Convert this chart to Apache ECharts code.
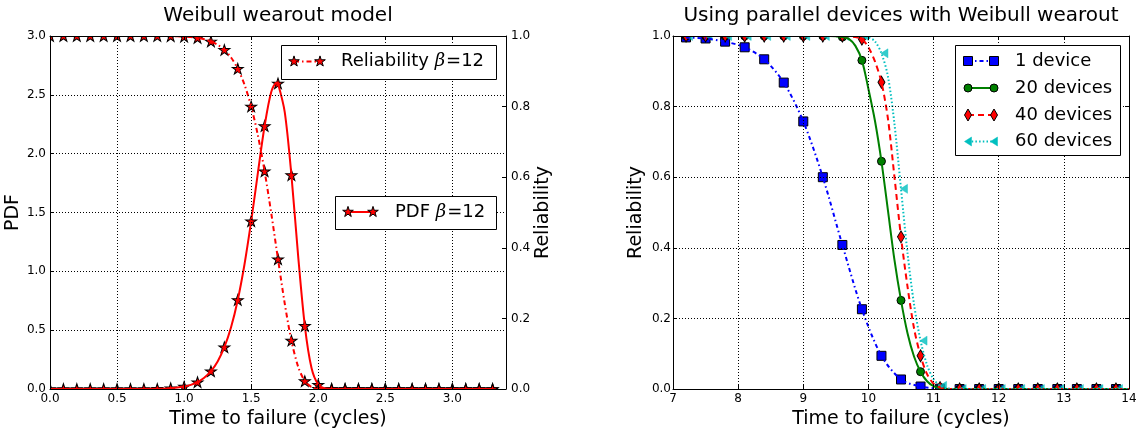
<!DOCTYPE html>
<html>
<head>
<meta charset="utf-8">
<script src="https://cdn.jsdelivr.net/npm/echarts@6/dist/echarts.min.js"></script>
<style>
  html, body { margin: 0; padding: 0; background: #fff; }
  #chart { width: 1140px; height: 429px; }
</style>
</head>
<body>
<div id="chart"></div>
<script>
// ---------- Left panel: Weibull wearout model, beta = 12 ----------
// marker positions (every 0.1 cycle)
const failTime = [0.0, 0.1, 0.2, 0.3, 0.4, 0.5, 0.6, 0.7, 0.8, 0.9, 1.0, 1.1, 1.2, 1.3, 1.4, 1.5, 1.6,
                  1.7, 1.8, 1.9, 2.0, 2.1, 2.2, 2.3, 2.4, 2.5, 2.6, 2.7, 2.8, 2.9, 3.0, 3.1, 3.2, 3.3];
const pdfMarkers = [0, 0, 0, 0, 0, 0, 0.0001, 0.0004, 0.0018, 0.0065, 0.0206, 0.0584, 0.151, 0.355, 0.757, 1.426, 2.235,
                    2.597, 1.818, 0.537, 0.037, 0.0002, 0, 0, 0, 0, 0, 0, 0, 0, 0, 0, 0, 0];
const relMarkers = [1, 1, 1, 1, 1, 1, 1, 1, 0.9999, 0.9995, 0.9983, 0.9946, 0.9848, 0.9608, 0.9073, 0.8004, 0.6169,
                    0.3679, 0.1373, 0.0224, 0.0009, 0, 0, 0, 0, 0, 0, 0, 0, 0, 0, 0, 0, 0];
// curve samples (finer around the wearout peak)
const curveTime = [0.0, 0.1, 0.2, 0.3, 0.4, 0.5, 0.6, 0.7, 0.8, 0.9, 1.0, 1.05, 1.1, 1.15, 1.2, 1.25, 1.3, 1.35,
                   1.4, 1.45, 1.5, 1.55, 1.6, 1.65, 1.69, 1.7, 1.75, 1.8, 1.85, 1.9, 1.95, 2.0, 2.05, 2.1, 2.2, 3.3];
const pdfCurve = [0, 0, 0, 0, 0, 0, 0.0001, 0.0004, 0.0018, 0.0065, 0.0206, 0.0351, 0.0584, 0.095, 0.151, 0.234,
                  0.355, 0.525, 0.757, 1.058, 1.426, 1.837, 2.235, 2.527, 2.603, 2.597, 2.356, 1.818, 1.134, 0.537,
                  0.178, 0.037, 0.004, 0.0002, 0, 0];
const relCurve = [1, 1, 1, 1, 1, 1, 1, 1, 0.9999, 0.9995, 0.9983, 0.9969, 0.9946, 0.9909, 0.9848, 0.9753, 0.9608,
                  0.939, 0.9073, 0.8622, 0.8004, 0.7189, 0.6169, 0.4971, 0.3939, 0.3679, 0.2427, 0.1373, 0.0634,
                  0.0224, 0.0056, 0.0009, 0.0001, 0, 0, 0];
const pdfTicks = [0, 0.5, 1.0, 1.5, 2.0, 2.5, 3.0];
const relTicks = [0, 0.2, 0.4, 0.6, 0.8, 1.0];

// ---------- Right panel: parallel devices ----------
const devTime = [7.2, 7.5, 7.8, 8.1, 8.4, 8.7, 9.0, 9.3, 9.6, 9.9, 10.2, 10.5, 10.8, 11.1, 11.4, 11.7,
                 12.0, 12.3, 12.6, 12.9, 13.2, 13.5, 13.8];
const dev1 = [0.996, 0.993, 0.984, 0.968, 0.934, 0.868, 0.758, 0.600, 0.408, 0.226, 0.094, 0.027, 0.007, 0.001,
              0, 0, 0, 0, 0, 0, 0, 0, 0];
const dev20 = [1, 1, 1, 1, 1, 1, 1, 1, 0.997, 0.931, 0.645, 0.251, 0.049, 0.002, 0, 0, 0, 0, 0, 0, 0, 0, 0];
const dev40 = [1, 1, 1, 1, 1, 1, 1, 1, 1, 0.991, 0.869, 0.431, 0.094, 0.004, 0, 0, 0, 0, 0, 0, 0, 0, 0];
const dev60 = [1, 1, 1, 1, 1, 1, 1, 1, 1, 1, 0.951, 0.567, 0.137, 0.009, 0, 0, 0, 0, 0, 0, 0, 0, 0];
const devCurveTime = [7.0, 9.0, 9.1, 9.2, 9.3, 9.4, 9.5, 9.6, 9.7, 9.8, 9.9, 10.0, 10.1, 10.2, 10.3, 10.4, 10.5,
                      10.6, 10.7, 10.8, 10.9, 11.0, 11.1, 11.2, 11.3, 11.4, 14.0];
const dev20Curve = [1, 1, 1, 1, 1, 1, 0.999, 0.997, 0.992, 0.972, 0.931, 0.85, 0.76, 0.645, 0.505, 0.365, 0.251,
                    0.158, 0.092, 0.049, 0.022, 0.008, 0.002, 0, 0, 0, 0];
const dev40Curve = [1, 1, 1, 1, 1, 1, 1, 1, 0.999, 0.997, 0.991, 0.968, 0.928, 0.869, 0.765, 0.6, 0.431,
                    0.29, 0.172, 0.094, 0.042, 0.015, 0.004, 0.001, 0, 0, 0];
const dev60Curve = [1, 1, 1, 1, 1, 1, 1, 1, 1, 1, 0.999, 0.996, 0.985, 0.951, 0.885, 0.75, 0.567,
                    0.385, 0.24, 0.137, 0.068, 0.028, 0.009, 0.002, 0, 0, 0];
const devTicksX = [7, 8, 9, 10, 11, 12, 13, 14];

// ---------- layout & styling ----------
const FONT = 'DejaVu Sans';
const G1 = { left: 50, top: 36, width: 456, height: 353 };
const G2 = { left: 673, top: 36, width: 456, height: 353 };
const RED = '#ff0000', BLUE = '#0000ff', GREEN = '#008000', CYAN = '#00bfbf';
const STAR = 'path://M0,-10L2.245,-3.09L9.511,-3.09L3.633,1.18L5.878,8.09L0,3.82L-5.878,8.09L-3.633,1.18L-9.511,-3.09L-2.245,-3.09Z';
const DASHDOT = [5, 3, 1.5, 3];
const DASHDOT_B = [4, 3, 1.5, 3];
const DASHED = [6, 4];
const DOTTED = [1.5, 2.2];

function zip(xs, ys) { return xs.map((x, i) => [x, ys[i]]); }

const tickText = { fontFamily: FONT, fontSize: 12, color: '#000' };
const nameText = { fontFamily: FONT, fontSize: 19, color: '#000' };
const frame = { show: true, onZero: false, lineStyle: { color: '#000', width: 1 } };
const ticksIn = { show: true, inside: true, length: 4, lineStyle: { color: '#000', width: 1 } };
const gridDots = { show: true, lineStyle: { color: '#000', width: 1, type: [1, 2] } };
const fmt1 = v => v.toFixed(1);

function axis(extra) {
  return Object.assign({
    type: 'value', z: 10, axisLine: frame, axisTick: ticksIn,
    splitLine: { show: false }, axisLabel: { show: false }
  }, extra);
}

const xAxis = [
  axis({ gridIndex: 0, position: 'bottom', min: 0, max: 3.4, interval: 0.5,
         axisLabel: Object.assign({ show: true, margin: 4, formatter: fmt1, showMaxLabel: false }, tickText),
         splitLine: gridDots, name: 'Time to failure (cycles)', nameLocation: 'middle', nameGap: 17,
         nameTextStyle: nameText }),
  axis({ gridIndex: 0, position: 'top', min: 0, max: 3.4, interval: 0.5 }),
  axis({ gridIndex: 1, position: 'bottom', min: devTicksX[0], max: devTicksX[devTicksX.length - 1], interval: 1,
         axisLabel: Object.assign({ show: true, margin: 4, formatter: v => String(v) }, tickText),
         splitLine: gridDots, name: 'Time to failure (cycles)', nameLocation: 'middle', nameGap: 17,
         nameTextStyle: nameText }),
  axis({ gridIndex: 1, position: 'top', min: devTicksX[0], max: devTicksX[devTicksX.length - 1], interval: 1 })
];

const yAxis = [
  axis({ gridIndex: 0, position: 'left', min: pdfTicks[0], max: pdfTicks[pdfTicks.length - 1], interval: 0.5,
         axisLabel: Object.assign({ show: true, margin: 4, formatter: fmt1 }, tickText),
         splitLine: gridDots, name: 'PDF', nameLocation: 'middle', nameGap: 24, nameTextStyle: nameText }),
  axis({ gridIndex: 0, position: 'right', min: relTicks[0], max: relTicks[relTicks.length - 1], interval: 0.2,
         axisLabel: Object.assign({ show: true, margin: 5, formatter: fmt1 }, tickText),
         name: 'Reliability', nameLocation: 'middle', nameGap: 25, nameTextStyle: nameText }),
  axis({ gridIndex: 1, position: 'left', min: relTicks[0], max: relTicks[relTicks.length - 1], interval: 0.2,
         axisLabel: Object.assign({ show: true, margin: 2, formatter: fmt1 }, tickText),
         splitLine: gridDots, name: 'Reliability', nameLocation: 'middle', nameGap: 27, nameTextStyle: nameText }),
  axis({ gridIndex: 1, position: 'right', min: relTicks[0], max: relTicks[relTicks.length - 1], interval: 0.2 })
];

function curve(xi, yi, xs, ys, color, type, width) {
  return { type: 'line', xAxisIndex: xi, yAxisIndex: yi, data: zip(xs, ys), smooth: 0.3, symbol: 'none',
           silent: true, clip: false, lineStyle: { color: color, width: width || 2, type: type || 'solid' } };
}
function markers(xi, yi, xs, ys, symbol, size, color, extra) {
  return Object.assign({ type: 'scatter', xAxisIndex: xi, yAxisIndex: yi, data: zip(xs, ys), symbol: symbol,
           symbolSize: size, silent: true, clip: false,
           itemStyle: { color: color, borderColor: '#000', borderWidth: 1, opacity: 1 } }, extra || {});
}

const series = [
  curve(0, 0, curveTime, pdfCurve, RED, 'solid'),
  markers(0, 0, failTime, pdfMarkers, STAR, [11, 10.5], RED),
  curve(0, 1, curveTime, relCurve, RED, DASHDOT),
  markers(0, 1, failTime, relMarkers, STAR, [11, 10.5], RED),

  curve(2, 2, devTime, dev1, BLUE, DASHDOT_B),
  markers(2, 2, devTime, dev1, 'rect', 9, BLUE),
  curve(2, 2, devCurveTime, dev20Curve, GREEN, 'solid'),
  markers(2, 2, devTime, dev20, 'circle', 8, GREEN),
  curve(2, 2, devCurveTime, dev40Curve, RED, DASHED),
  markers(2, 2, devTime, dev40, 'diamond', [7, 12], RED),
  curve(2, 2, devCurveTime, dev60Curve, CYAN, DOTTED),
  markers(2, 2, devTime, dev60, 'triangle', [9, 7], CYAN,
          { symbolRotate: 90, symbolOffset: [3, 0], itemStyle: { color: CYAN, borderColor: CYAN, borderWidth: 0.5 } })
];

// ---------- graphics: titles, plot-area masks, legends ----------
const graphics = [];

function title(text, g) {
  graphics.push({ type: 'text', z: 30, x: g.left + g.width / 2, y: 16,
    style: { text: text, fontFamily: FONT, fontSize: 20, fill: '#000',
             align: 'center', verticalAlign: 'middle', textAlign: 'center', textVerticalAlign: 'middle' } });
}
title('Weibull wearout model', G1);
title('Using parallel devices with Weibull wearout', G2);

// white bands around each plot area so markers sitting on the frame are cut at the edge
function masks(g) {
  const m = 9, L = g.left, T = g.top, R = g.left + g.width, B = g.top + g.height;
  [[L - m, T - m, g.width + 2 * m, m], [L - m, B, g.width + 2 * m, m],
   [L - m, T, m, g.height], [R, T, m, g.height]].forEach(r => {
    graphics.push({ type: 'rect', z: 5, silent: true, shape: { x: r[0], y: r[1], width: r[2], height: r[3] },
                    style: { fill: '#fff' } });
  });
}
masks(G1);
masks(G2);

function starPoints(cx, cy, R) {
  const pts = [], r = R * 0.382;
  for (let k = 0; k < 10; k++) {
    const a = -Math.PI / 2 + k * Math.PI / 5, rr = k % 2 ? r : R;
    pts.push([cx + rr * Math.cos(a), cy + rr * Math.sin(a)]);
  }
  return pts;
}
function legendMarker(kind, cx, cy, color) {
  const st = { fill: color, stroke: '#000', lineWidth: 1 };
  if (kind === 'star') return { type: 'polygon', z: 42, shape: { points: starPoints(cx, cy, 5.6) }, style: st };
  if (kind === 'rect') return { type: 'rect', z: 42, shape: { x: cx - 4.5, y: cy - 4.5, width: 9, height: 9 }, style: st };
  if (kind === 'circle') return { type: 'circle', z: 42, shape: { cx: cx, cy: cy, r: 4 }, style: st };
  if (kind === 'diamond') return { type: 'polygon', z: 42,
    shape: { points: [[cx, cy - 6], [cx + 3.5, cy], [cx, cy + 6], [cx - 3.5, cy]] }, style: st };
  return { type: 'polygon', z: 42, shape: { points: [[cx - 3.5, cy], [cx + 3.5, cy - 4.5], [cx + 3.5, cy + 4.5]] },
           style: { fill: color, stroke: color, lineWidth: 0.5 } };
}
function legend(box, rows) {
  graphics.push({ type: 'rect', z: 40, shape: { x: box[0] + 0.5, y: box[1] + 0.5, width: box[2], height: box[3] },
                  style: { fill: '#fff', stroke: '#000', lineWidth: 1 } });
  rows.forEach(r => {
    graphics.push({ type: 'line', z: 41, shape: { x1: r.x1, y1: r.y, x2: r.x2, y2: r.y },
                    style: { stroke: r.color, lineWidth: 2, lineDash: r.dash || null } });
    graphics.push(legendMarker(r.marker, r.x1, r.y, r.color));
    graphics.push(legendMarker(r.marker, r.x2, r.y, r.color));
    graphics.push({ type: 'text', z: 43, x: r.tx, y: r.y,
      style: { text: r.text, rich: r.rich, fontFamily: FONT, fontSize: 18, fill: '#000',
               align: 'left', verticalAlign: 'middle', textAlign: 'left', textVerticalAlign: 'middle' } });
  });
}
const betaRich = {
  n: { fontFamily: FONT, fontSize: 18, color: '#000' },
  b: { fontFamily: 'DejaVu Serif', fontStyle: 'italic', fontSize: 18, color: '#333' },
  e: { fontFamily: FONT, fontSize: 18, color: '#000', padding: [0, 0, 0, 1] }
};
legend([281, 45, 215, 34], [
  { y: 61.5, x1: 294, x2: 320, tx: 341, color: RED, dash: DASHDOT, marker: 'star',
    text: '{n|Reliability }{b|β}{e|=12}', rich: betaRich }
]);
legend([335, 196, 161, 33], [
  { y: 212, x1: 348, x2: 373, tx: 395, color: RED, marker: 'star',
    text: '{n|PDF }{b|β}{e|=12}', rich: betaRich }
]);
legend([955, 45, 165, 110], [
  { y: 61, x1: 968, x2: 994, tx: 1015, color: BLUE, dash: DASHDOT_B, marker: 'rect', text: '1 device' },
  { y: 88, x1: 968, x2: 994, tx: 1015, color: GREEN, marker: 'circle', text: '20 devices' },
  { y: 115, x1: 968, x2: 994, tx: 1015, color: RED, dash: DASHED, marker: 'diamond', text: '40 devices' },
  { y: 141.5, x1: 968, x2: 994, tx: 1015, color: CYAN, dash: DOTTED, marker: 'triangle', text: '60 devices' }
]);

const chart = echarts.init(document.getElementById('chart'), null, { renderer: 'canvas' });
chart.setOption({
  animation: false,
  backgroundColor: '#fff',
  textStyle: { fontFamily: FONT },
  grid: [
    Object.assign({ containLabel: false, outerBoundsMode: 'none' }, G1),
    Object.assign({ containLabel: false, outerBoundsMode: 'none' }, G2)
  ],
  xAxis: xAxis,
  yAxis: yAxis,
  series: series,
  graphic: { elements: graphics }
});
</script>
</body>
</html>
